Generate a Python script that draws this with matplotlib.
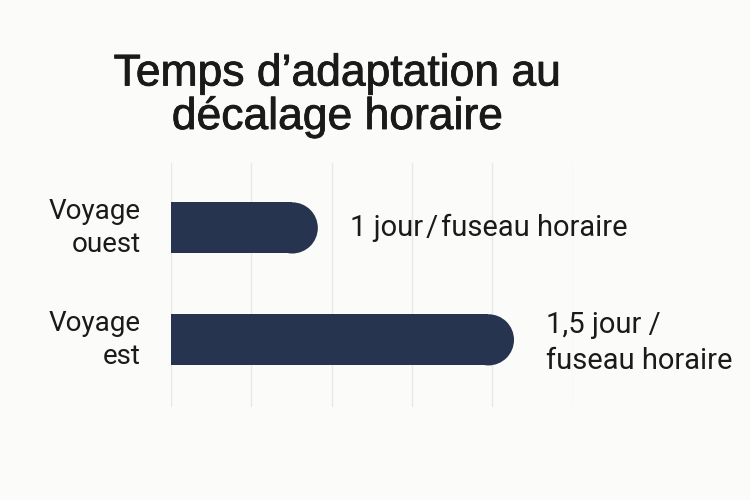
import matplotlib
matplotlib.use("Agg")
import matplotlib.pyplot as plt
import matplotlib.patheffects as pe
from matplotlib.patches import Ellipse, Rectangle

# data
categories = ["Voyage\nouest", "Voyage\nest"]
bar_lengths = [1.83, 4.27]
value_labels = ["1 jour\u200a/\u200afuseau horaire", "1,5 jour /\nfuseau horaire"]
title = "Temps d\u2019adaptation au\nd\u00e9calage horaire"

BG = "#FBFBF9"
BAR = "#26344F"
INK = "#1A1A1A"
GRID = "#E8E8E6"

plt.rcParams["font.family"] = ["Roboto", "DejaVu Sans"]

fig = plt.figure(figsize=(7.5, 5), dpi=100, facecolor=BG)
ax = fig.add_axes([0.2276, 0.186, 0.536, 0.488], facecolor=BG)

ypos = list(range(len(categories)))
bars = ax.barh(ypos, bar_lengths, height=0.457, color=BAR)

ax.set_xlim(0, 5)
ax.set_ylim(1.60, -0.58)
ax.set_xticks(range(6))
ax.grid(axis="x", color=GRID, linewidth=1)
ax.set_axisbelow(True)
ax.tick_params(length=0, labelbottom=False, labelleft=False)
for s in ax.spines.values():
    s.set_visible(False)

# rounded right ends: half-circle in pixels, converted to x data units
fig.canvas.draw()
bb = ax.get_window_extent()
px_x = bb.width / 5
px_y = bb.height / 2.18
for b in bars:
    x0, y0, w, h = b.get_x(), b.get_y(), b.get_width(), b.get_height()
    rx = h * px_y / px_x / 2
    ax.add_patch(Rectangle((x0, y0), w - rx, h, facecolor=BAR,
                           edgecolor="none", zorder=3))
    ax.add_patch(Ellipse((x0 + w - rx, y0 + h / 2), 2 * rx, h,
                         facecolor=BAR, edgecolor="none", zorder=3))
    b.set_visible(False)

for y, lab in zip(ypos, categories):
    ax.text(-0.37, y, lab, ha="right", va="center", fontsize=20,
            color=INK, linespacing=1.28, clip_on=False)

for y, w, lab in zip(ypos, bar_lengths, value_labels):
    dy = 0.03 if "\n" in lab else 0
    ax.text(w + 0.40, y + dy, lab, ha="left", va="center", fontsize=21,
            color=INK, linespacing=1.36, clip_on=False)

fig.text(0.45, 0.742, title, ha="center", va="baseline", fontsize=32,
         color=INK, linespacing=1.03, family=["Liberation Sans", "DejaVu Sans"],
         path_effects=[pe.withStroke(linewidth=0.6, foreground=INK)])

fig.savefig("out.png", dpi=100, facecolor=BG)
